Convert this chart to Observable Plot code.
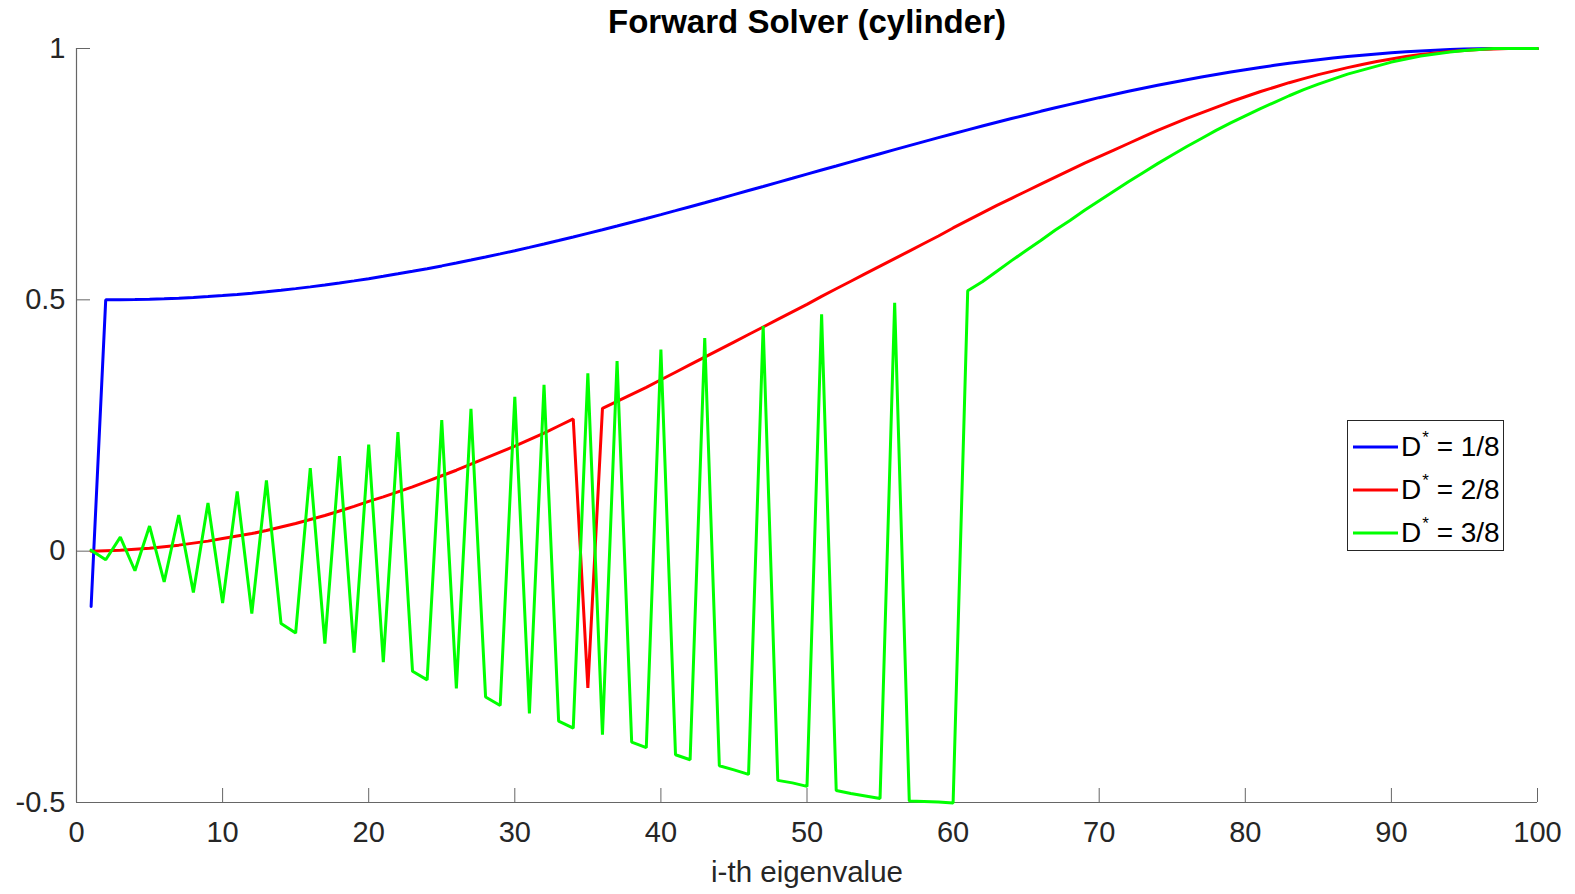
<!DOCTYPE html>
<html>
<head>
<meta charset="utf-8">
<script src="https://cdn.jsdelivr.net/npm/d3@7"></script>
<script src="https://cdn.jsdelivr.net/npm/@observablehq/plot@0.6"></script>
<style>
  body { margin: 0; background: #fff; }
  #wrap { position: relative; width: 1575px; height: 894px; }
  #legend { position: absolute; left: 1347px; top: 420px; width: 157px; height: 131px;
    border: 1px solid #262626; background: #fff; box-sizing: border-box;
    font-family: "Liberation Sans", Arial, Helvetica, sans-serif; font-size: 28px; color: #000; }
  .item { position: absolute; left: 0; height: 40px; display: flex; align-items: center; white-space: nowrap; }
  .item svg { margin-left: 5px; margin-right: 3px; }
  .sup { font-size: 17px; position: relative; top: -13px; margin-left: 1px; margin-right: 0px; }
</style>
</head>
<body>
<div id="wrap"></div>
<script>
const titleText = "Forward Solver (cylinder)";
const xLabel = "i-th eigenvalue";
const seriesLabels = ["1/8", "2/8", "3/8"];
const seriesColors = ["#0000ff", "#ff0000", "#00ff00"];
const xTicks = [0, 10, 20, 30, 40, 50, 60, 70, 80, 90, 100];
const yTicks = [-0.5, 0, 0.5, 1];

const eig = [1,2,3,4,5,6,7,8,9,10,11,12,13,14,15,16,17,18,19,20,21,22,23,24,25,26,27,28,29,30,
  31,32,33,34,35,36,37,38,39,40,41,42,43,44,45,46,47,48,49,50,51,52,53,54,55,56,57,58,59,60,
  61,62,63,64,65,66,67,68,69,70,71,72,73,74,75,76,77,78,79,80,81,82,83,84,85,86,87,88,89,90,
  91,92,93,94,95,96,97,98,99,100];

const d1 = [-0.110,0.500,0.5001,0.5005,0.5012,0.5021,0.5033,0.5048,0.5065,0.5085,
  0.5108,0.5133,0.5160,0.5190,0.5223,0.5258,0.5295,0.5335,0.5377,0.5421,
  0.5468,0.5517,0.5567,0.5620,0.5675,0.5732,0.5791,0.5852,0.5914,0.5978,
  0.6044,0.6111,0.6180,0.6250,0.6322,0.6394,0.6468,0.6543,0.6619,0.6696,
  0.6774,0.6853,0.6932,0.7012,0.7093,0.7174,0.7255,0.7337,0.7418,0.7500,
  0.7582,0.7663,0.7745,0.7826,0.7907,0.7988,0.8068,0.8147,0.8226,0.8304,
  0.8381,0.8457,0.8532,0.8606,0.8678,0.8750,0.8820,0.8889,0.8956,0.9022,
  0.9086,0.9148,0.9209,0.9268,0.9325,0.9380,0.9433,0.9483,0.9532,0.9579,
  0.9623,0.9665,0.9705,0.9742,0.9777,0.9810,0.9840,0.9867,0.9892,0.9915,
  0.9935,0.9952,0.9967,0.9979,0.9988,0.9995,0.9999,1.0,1.0,1.0];

const d2 = [0.000,0.001,0.002,0.004,0.006,0.009,0.012,0.016,0.020,0.025,
  0.030,0.035,0.041,0.048,0.055,0.063,0.071,0.080,0.089,0.099,
  0.108,0.118,0.128,0.139,0.150,0.161,0.173,0.185,0.197,0.209,
  0.222,0.235,0.249,0.263,-0.272,0.284,0.298,0.312,0.326,0.341,
  0.356,0.371,0.386,0.401,0.416,0.431,0.446,0.461,0.476,0.491,
  0.507,0.522,0.537,0.552,0.567,0.582,0.597,0.612,0.627,0.643,
  0.658,0.673,0.688,0.702,0.716,0.730,0.744,0.758,0.772,0.785,
  0.798,0.811,0.824,0.837,0.849,0.861,0.872,0.883,0.894,0.904,
  0.914,0.923,0.932,0.940,0.948,0.955,0.962,0.968,0.974,0.979,
  0.984,0.988,0.991,0.994,0.996,0.998,0.999,1.0,1.0,1.0];

const d3v = [0.002,-0.017,0.028,-0.039,0.050,-0.061,0.072,-0.082,0.096,-0.103,
  0.119,-0.124,0.141,-0.144,-0.163,0.165,-0.184,0.189,-0.202,0.212,
  -0.221,0.237,-0.239,-0.256,0.261,-0.273,0.283,-0.290,-0.307,0.307,
  -0.323,0.331,-0.338,-0.352,0.354,-0.365,0.378,-0.380,-0.391,0.401,
  -0.405,-0.415,0.424,-0.427,-0.435,-0.444,0.448,-0.456,-0.461,-0.468,
  0.471,-0.476,-0.482,-0.487,-0.492,0.494,-0.497,-0.498,-0.499,-0.501,
  0.518,0.536,0.557,0.578,0.598,0.618,0.639,0.658,0.678,0.697,
  0.716,0.735,0.753,0.771,0.788,0.805,0.821,0.837,0.852,0.866,
  0.880,0.893,0.906,0.918,0.929,0.939,0.949,0.957,0.965,0.973,
  0.979,0.985,0.989,0.993,0.996,0.998,1.0,1.0,1.0,1.0];

const seriesValues = [d1, d2, d3v];
const rows = seriesValues.map(vals => eig.map((e, i) => ({x: e, y: vals[i]})));

const font = '"Liberation Sans", Arial, Helvetica, sans-serif';
const chart = Plot.plot({
  width: 1575,
  height: 894,
  marginLeft: 76,
  marginRight: 38,
  marginTop: 48,
  marginBottom: 92,
  x: {domain: [0, 100]},
  y: {domain: [-0.5, 1]},
  style: {fontFamily: font, fontSize: "29px", color: "#262626", background: "#fff"},
  marks: [
    Plot.ruleX([0], {stroke: "#666", strokeWidth: 1.2}),
    Plot.ruleY([-0.5], {stroke: "#666", strokeWidth: 1.2}),
    Plot.axisX({ticks: xTicks, tickSize: -14, tickPadding: 33, fontSize: 29, tickFormat: d => String(d), label: null, stroke: "#666", fill: "#262626"}),
    Plot.axisY({ticks: yTicks, tickSize: -14, tickPadding: 25, fontSize: 29, tickFormat: d => String(d), label: null, stroke: "#666", fill: "#262626"}),
    ...rows.map((r, k) => Plot.line(r, {x: "x", y: "y", stroke: seriesColors[k], strokeWidth: 3, strokeLinejoin: "miter"})),
    Plot.text([titleText], {frameAnchor: "top", lineAnchor: "middle", dy: -26, fontWeight: "bold", fontSize: 33, fill: "#000"}),
    Plot.text([xLabel], {frameAnchor: "bottom", lineAnchor: "middle", dy: 70, fontSize: 29.5, fill: "#262626"})
  ]
});
const wrap = document.getElementById("wrap");
wrap.appendChild(chart);

const legend = document.createElement("div");
legend.id = "legend";
const rowTops = [6, 49, 92];
seriesLabels.forEach((lab, k) => {
  const it = document.createElement("div");
  it.className = "item";
  it.style.top = rowTops[k] + "px";
  it.innerHTML = `<svg width="45" height="6"><line x1="0" y1="3" x2="45" y2="3" stroke="${seriesColors[k]}" stroke-width="3"/></svg><span>D<span class="sup">*</span> = ${lab}</span>`;
  legend.appendChild(it);
});
wrap.appendChild(legend);
</script>
</body>
</html>
